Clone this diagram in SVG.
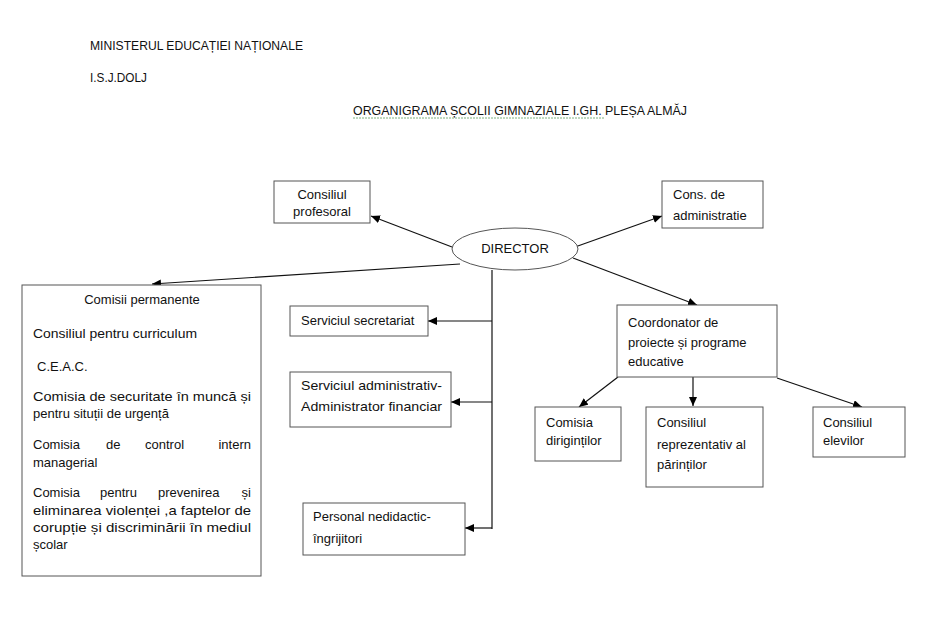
<svg xmlns="http://www.w3.org/2000/svg" width="934" height="638" viewBox="0 0 934 638">
<defs>
<marker id="ah" markerUnits="userSpaceOnUse" markerWidth="10" markerHeight="8" refX="9" refY="4" orient="auto">
<path d="M0,0 L9,4 L0,8 Z" fill="#000"/>
</marker>
<style>
text{font-family:"Liberation Sans",Arial,sans-serif;font-size:13px;fill:#111}
.box{fill:#fff;stroke:#555;stroke-width:1}
.c{stroke:#111;stroke-width:1.2;fill:none}
.a{marker-end:url(#ah)}
</style>
</defs>
<rect width="934" height="638" fill="#fff"/>
<g id="header">
<text x="90" y="50" textLength="213" lengthAdjust="spacingAndGlyphs">MINISTERUL EDUCAȚIEI NAȚIONALE</text>
<text x="90" y="82" textLength="57" lengthAdjust="spacingAndGlyphs">I.S.J.DOLJ</text>
<text x="353" y="115" textLength="334" lengthAdjust="spacingAndGlyphs">ORGANIGRAMA ȘCOLII GIMNAZIALE I.GH. PLEȘA ALMĂJ</text>
<line x1="353" y1="118" x2="605" y2="118" stroke="#7fb27f" stroke-width="1" stroke-dasharray="2,1"/>
</g>
<g id="connectors">
<line class="c a" x1="452" y1="247" x2="371" y2="216"/>
<line class="c a" x1="575" y1="247" x2="662" y2="216"/>
<line class="c a" x1="460" y1="264" x2="152" y2="284"/>
<line class="c a" x1="573" y1="258" x2="697" y2="305"/>
<polyline class="c" points="492,270 492,529"/>
<line class="c a" x1="492" y1="321" x2="428" y2="321"/>
<line class="c a" x1="492" y1="402" x2="451" y2="402"/>
<polyline class="c a" points="492,528 465,528"/>
<line class="c a" x1="618" y1="377" x2="579" y2="407"/>
<line class="c a" x1="693" y1="377" x2="693" y2="406"/>
<line class="c a" x1="777" y1="378" x2="862" y2="407"/>
</g>
<g id="director">
<ellipse cx="515" cy="249" rx="63" ry="21" class="box"/>
<text x="515" y="253" text-anchor="middle">DIRECTOR</text>
</g>
<g id="consiliul-profesoral">
<rect x="274" y="181" width="96" height="42" class="box"/>
<text x="322" y="199" text-anchor="middle">Consiliul</text>
<text x="322" y="216" text-anchor="middle">profesoral</text>
</g>
<g id="cons-administratie">
<rect x="662" y="181" width="101" height="47" class="box"/>
<text x="673" y="199">Cons. de</text>
<text x="673" y="220">administratie</text>
</g>
<g id="comisii-permanente">
<rect x="22" y="285" width="239" height="291" class="box"/>
<text x="142" y="304" text-anchor="middle">Comisii permanente</text>
<text x="33" y="338" textLength="164" lengthAdjust="spacingAndGlyphs">Consiliul pentru curriculum</text>
<text x="37" y="371">C.E.A.C.</text>
<text x="33" y="401" textLength="218" lengthAdjust="spacingAndGlyphs">Comisia de securitate în muncă și</text>
<text x="33" y="418">pentru situții de urgență</text>
<text y="449"><tspan x="33">Comisia</tspan><tspan x="106">de</tspan><tspan x="145">control</tspan><tspan x="251" text-anchor="end">intern</tspan></text>
<text x="33" y="467">managerial</text>
<text y="497"><tspan x="33">Comisia</tspan><tspan x="100">pentru</tspan><tspan x="158">prevenirea</tspan><tspan x="251" text-anchor="end">și</tspan></text>
<text x="33" y="515" textLength="218" lengthAdjust="spacingAndGlyphs">eliminarea violenței ,a faptelor de</text>
<text x="33" y="532" textLength="218" lengthAdjust="spacingAndGlyphs">corupție și discriminării în mediul</text>
<text x="33" y="549">școlar</text>
</g>
<g id="serviciul-secretariat">
<rect x="290" y="306" width="138" height="30" class="box"/>
<text x="301" y="325">Serviciul secretariat</text>
</g>
<g id="serviciul-administrativ">
<rect x="290" y="372" width="161" height="55" class="box"/>
<text x="301" y="390" textLength="141" lengthAdjust="spacingAndGlyphs">Serviciul administrativ-</text>
<text x="301" y="411" textLength="141" lengthAdjust="spacingAndGlyphs">Administrator financiar</text>
</g>
<g id="personal-nedidactic">
<rect x="303" y="503" width="162" height="52" class="box"/>
<text x="313" y="521">Personal nedidactic-</text>
<text x="313" y="543">îngrijitori</text>
</g>
<g id="coordonator">
<rect x="617" y="305" width="160" height="72" class="box"/>
<text x="628" y="327">Coordonator de</text>
<text x="628" y="347">proiecte și programe</text>
<text x="628" y="366">educative</text>
</g>
<g id="comisia-dirigintilor">
<rect x="535" y="407" width="86" height="54" class="box"/>
<text x="546" y="427">Comisia</text>
<text x="546" y="445">diriginților</text>
</g>
<g id="consiliul-reprezentativ">
<rect x="646" y="407" width="117" height="80" class="box"/>
<text x="657" y="427">Consiliul</text>
<text x="657" y="449">reprezentativ al</text>
<text x="657" y="469">părinților</text>
</g>
<g id="consiliul-elevilor">
<rect x="813" y="407" width="92" height="50" class="box"/>
<text x="823" y="427">Consiliul</text>
<text x="823" y="445">elevilor</text>
</g>
</svg>
